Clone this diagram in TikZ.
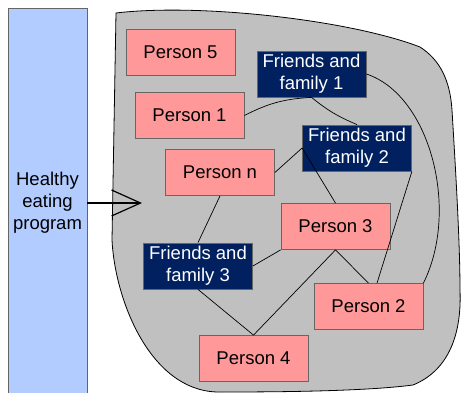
\documentclass[tikz,border=0pt]{standalone}
\usepackage{fontspec}
\setmainfont{Liberation Sans}
\usetikzlibrary{arrows.meta}
\definecolor{pinkbox}{HTML}{FF9999}
\definecolor{navybox}{HTML}{002060}
\definecolor{blobgray}{HTML}{C0C0C0}
\definecolor{barblue}{HTML}{B3CCFF}
\definecolor{edgegray}{HTML}{666666}
\begin{document}
\begin{tikzpicture}[x=1pt,y=-1pt,
  every node/.style={font=\fontsize{18.5}{22}\selectfont},
  box/.style={draw=edgegray, line width=0.8pt, minimum width=109pt, minimum height=46pt, inner sep=0pt, align=center},
  person/.style={box, fill=pinkbox, text=black},
  friends/.style={box, fill=navybox, text=white},
  link/.style={draw=black, line width=0.7pt}]
\useasboundingbox (0,0) rectangle (461,393);
% blob
\fill[blobgray] (116,13) .. controls (200,3) and (350,20) .. (420,47)
  .. controls (440,60) and (450,80) .. (452,110)
  .. controls (455,160) and (460,240) .. (460,290)
  .. controls (462,340) and (445,372) .. (413,385)
  .. controls (360,392) and (260,392) .. (217,392)
  .. controls (150,390) and (115,300) .. (112,240)
  -- cycle;
\draw[black, line width=0.8pt] (116,13) .. controls (200,3) and (350,20) .. (420,47)
  .. controls (440,60) and (450,80) .. (452,110)
  .. controls (455,160) and (460,240) .. (460,290)
  .. controls (462,340) and (445,372) .. (413,385)
  .. controls (360,392) and (260,392) .. (217,392)
  .. controls (150,390) and (115,300) .. (112,240)
  -- cycle;
% bar
\node[draw=edgegray, fill=barblue, line width=0.8pt, minimum width=79pt, minimum height=390pt, inner sep=0pt, align=center] (bar) at (47.5,203) {Healthy\\eating\\program};
\coordinate (tip) at (142,203);
\draw[line width=1.2pt, -{Straight Barb[length=29pt,width=26pt,line width=1.2pt]}] (bar.east) -- (tip);
% nodes
\node[person] (p5) at (180.5,52) {Person 5};
\node[person] (p1) at (189.5,115.5) {Person 1};
\node[person] (pn) at (220,172.5) {Person n};
\node[friends] (f1) at (311.5,74) {Friends and\\family 1};
\node[friends] (f2) at (357,148) {Friends and\\family 2};
\node[person] (p3) at (335.5,226.5) {Person 3};
\node[person] (p2) at (368.5,306.5) {Person 2};
\node[person] (p4) at (253.5,358.5) {Person 4};
\node[friends] (f3) at (198,266) {Friends and\\family 3};
% links
\draw[link] (p1.east) to[bend left=12] (f1.south);
\draw[link] (f1.south) to[bend right=8] (f2.north);
\draw[link] (f1.east) .. controls (430,95) and (460,210) .. (p2.north east);
\draw[link] (f2.west) -- (pn.east);
\draw[link] (f2.west) -- (p3.north);
\draw[link] (f2.south east) -- (p2.70);
\draw[link] (pn.south) -- (f3.north);
\draw[link] (f3.east) -- (p3.south west);
\draw[link] (f3.south) -- (p4.north);
\draw[link] (p3.south) -- (p4.north);
\draw[link] (p3.south) -- (p2.north);
\end{tikzpicture}
\end{document}
